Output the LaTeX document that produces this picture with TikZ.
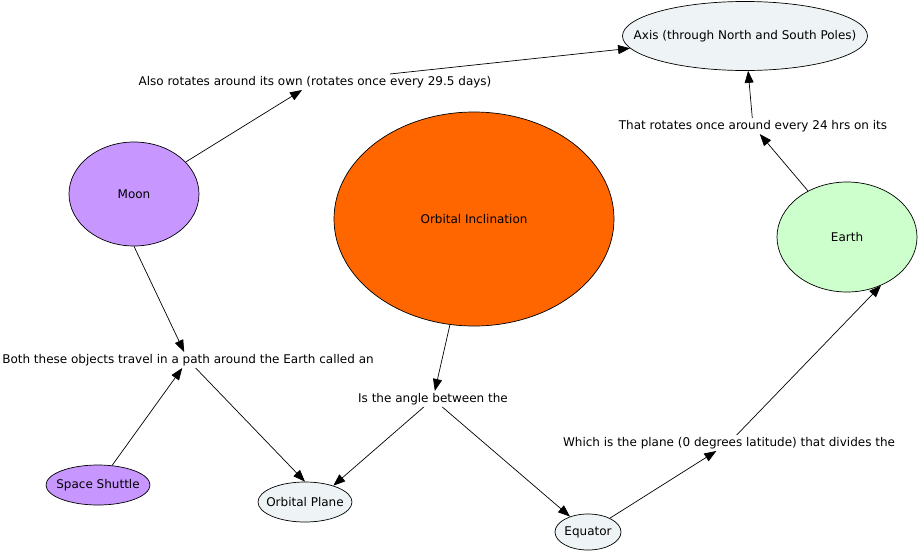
\documentclass[tikz,border=0pt]{standalone}
\usepackage{fontspec}
\setmainfont{DejaVu Sans}
\usetikzlibrary{shapes.geometric}
\usetikzlibrary{arrows.meta}
\definecolor{lilac}{HTML}{C896FF}
\definecolor{paleblue}{HTML}{EEF3F5}
\definecolor{palegreen}{HTML}{CCFFCC}
\definecolor{deeporange}{HTML}{FF6600}

\begin{document}
\begin{tikzpicture}[x=1pt,y=-1pt]
  \tikzstyle{concept}=[draw,ellipse,inner xsep=-60pt,inner ysep=0pt,line width=0.7pt,font=\fontsize{12}{14}\selectfont]
  \tikzstyle{linkword}=[inner sep=2pt,font=\fontsize{12}{14}\selectfont]
  \tikzstyle{arrowline}=[draw,line width=0.7pt,-{Triangle[length=12pt,width=9pt]}]
  \useasboundingbox (0,0) rectangle (920,552);

  % concepts
  \node [concept,fill=paleblue,minimum width=245,minimum height=69] (axis) at (745,36) {Axis (through North and South Poles)};
  \node [concept,fill=lilac,minimum width=130,minimum height=104] (moon) at (134,194) {Moon};
  \node [concept,fill=deeporange,minimum width=280,minimum height=214] (incl) at (474,219) {Orbital Inclination};
  \node [concept,fill=palegreen,minimum width=140,minimum height=110] (earth) at (847,237) {Earth};
  \node [concept,fill=lilac,minimum width=104,minimum height=40] (shuttle) at (98,485) {Space Shuttle};
  \node [concept,fill=paleblue,minimum width=94,minimum height=40] (plane) at (305,502) {Orbital Plane};
  \node [concept,fill=paleblue,minimum width=66,minimum height=36] (equator) at (588,532) {Equator};

  % linking phrases
  \node [linkword] (l-rotates) at (315,82) {Also rotates around its own (rotates once every 29.5 days)};
  \node [linkword] (l-daily) at (753,126) {That rotates once around every 24 hrs on its};
  \node [linkword] (l-travel) at (188,360) {Both these objects travel in a path around the Earth called an};
  \node [linkword] (l-angle) at (433,399) {Is the angle between the};
  \node [linkword] (l-divides) at (729,443) {Which is the plane (0 degrees latitude) that divides the};

  \path [arrowline] (moon) -- (l-rotates);
  \path [arrowline] (l-rotates) -- (axis);
  \path [arrowline] (earth) -- (l-daily);
  \path [arrowline] (l-daily) -- (axis);
  \path [arrowline] (moon.south) -- (l-travel);
  \path [arrowline] (shuttle) -- (l-travel);
  \path [arrowline] (l-travel) -- (plane.north);
  \path [arrowline] (incl) -- (l-angle);
  \path [arrowline] (l-angle) -- (plane.30);
  \path [arrowline] (l-angle) -- (equator);
  \path [arrowline] (equator) -- (l-divides);
  \path [arrowline] (l-divides) -- (earth.-55);
\end{tikzpicture}
\end{document}
